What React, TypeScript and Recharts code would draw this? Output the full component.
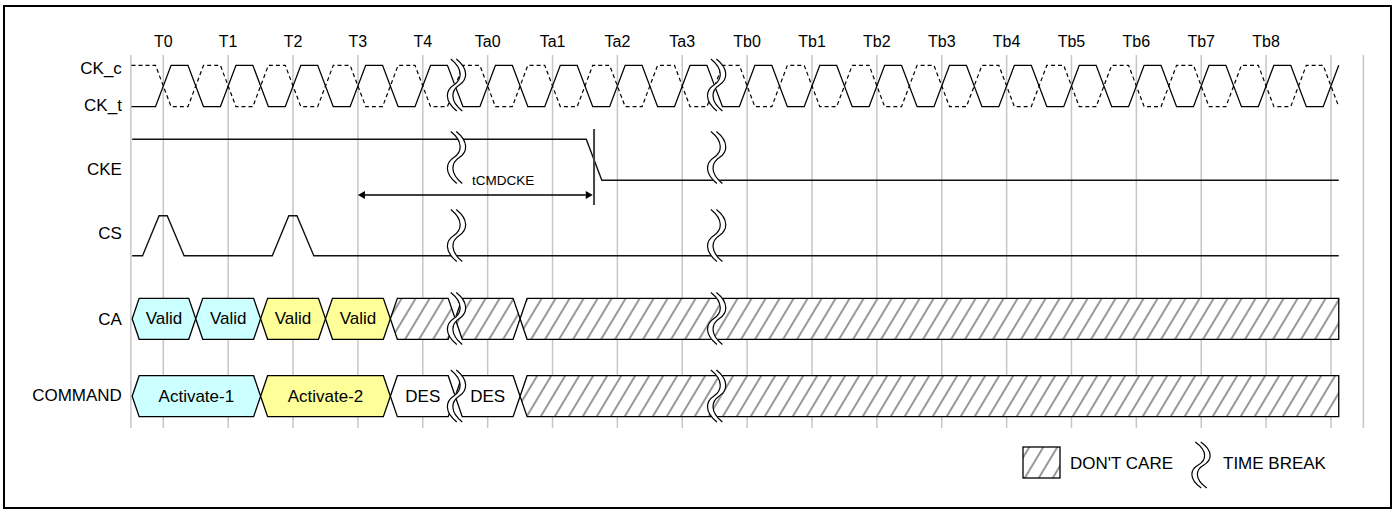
import React from "react";
import {
  ComposedChart,
  XAxis,
  YAxis,
  CartesianGrid,
  Line,
  Scatter,
  ReferenceArea,
  ReferenceLine,
} from "recharts";

// clock edge labels, index = cycle on the time axis (last edge has no label)
const clockLabels = [
  "T0", "T1", "T2", "T3", "T4",
  "Ta0", "Ta1", "Ta2", "Ta3",
  "Tb0", "Tb1", "Tb2", "Tb3", "Tb4", "Tb5", "Tb6", "Tb7", "Tb8",
  "",
];

const laneNames = ["CK_c", "CK_t", "CKE", "CS", "CA", "COMMAND"];

// waveform corners, time in clock cycles, 1 = high, 0 = low
const ckeTimes = [-0.48, 6.52, 6.76, 18.12];
const ckeLevels = [1, 1, 0, 0];

const csTimes = [-0.48, -0.32, -0.065, 0.06, 0.32, 1.68, 1.935, 2.06, 2.32, 18.12];
const csLevels = [0, 0, 1, 1, 0, 0, 1, 1, 0, 0];

// bus cells (start / end in cycles)
const caStart = [-0.48, 0.5, 1.5, 2.5, 3.5, 4.5, 5.5];
const caEnd = [0.5, 1.5, 2.5, 3.5, 4.5, 5.5, 18.12];
const caText = ["Valid", "Valid", "Valid", "Valid", "", "", ""];
const caKind = ["cyan", "cyan", "yellow", "yellow", "x", "x", "x"];

const cmdStart = [-0.48, 1.5, 3.5, 4.5, 5.5];
const cmdEnd = [1.5, 3.5, 4.5, 5.5, 18.12];
const cmdText = ["Activate-1", "Activate-2", "DES", "DES", ""];
const cmdKind = ["cyan", "yellow", "white", "white", "x"];

const timeBreaks = [4.52, 8.53];

const tcmdFrom = 3;
const tcmdTo = 6.64;
const tcmdTextAt = 4.77;

// layout
const W = 1399;
const H = 513;
const PLOT_LEFT = 130.87;
const PLOT_RIGHT = 1363.4;
const PLOT_TOP = 55;
const PLOT_BOTTOM = 428;
const Y_AXIS_W = 60;
const X_AXIS_H = 30;
const EDGE = 0.12;
const WAVE_START = -0.49;
const WAVE_END = 18.12;
const POINT = 7;
const FONT = '"Liberation Sans", Arial, Helvetica, sans-serif';

const lane = {
  ck: { hi: 10.3, lo: 51.7 },
  cke: { hi: 84.3, lo: 125.3 },
  cs: { hi: 160.7, lo: 200.7 },
  ca: { hi: 243.3, lo: 284.3 },
  cmd: { hi: 320.7, lo: 361.7 },
};
const laneLabelY = [12.5, 49.5, 114, 178, 264, 340];
const breakCenters = [30, 102.5, 180.5, 263.5, 341];
const BREAK_H = 52;

const fills: Record<string, string> = {
  cyan: "#CCFFFF",
  yellow: "#FFFF99",
  white: "#FFFFFF",
  x: "url(#dc-hatch)",
};

function clockWave(startHigh: boolean) {
  let lvl = startHigh ? 1 : 0;
  const pts = [{ x: WAVE_START, lvl }];
  clockLabels.forEach((_, i) => {
    for (const e of [i, i + 0.5]) {
      if (e + EDGE > WAVE_END + 1e-6) continue;
      pts.push({ x: e - EDGE, lvl });
      lvl = 1 - lvl;
      pts.push({ x: e + EDGE, lvl });
    }
  });
  return pts.map((p) => ({ x: p.x, y: p.lvl ? lane.ck.hi : lane.ck.lo }));
}

function toWave(times: number[], levels: number[], l: { hi: number; lo: number }) {
  return times.map((t, i) => ({ x: t, y: levels[i] ? l.hi : l.lo }));
}

const ckT = clockWave(false);
const ckC = clockWave(true);
const cke = toWave(ckeTimes, ckeLevels, lane.cke);
const cs = toWave(csTimes, csLevels, lane.cs);

const breakPts = timeBreaks.flatMap((x) => breakCenters.map((y) => ({ x, y })));

function breakCurve(c: number, top: number, h: number) {
  return `M${c - 3},${top} C${c + 10},${top + 0.2 * h} ${c + 8},${top + 0.4 * h} ${c},${top + 0.5 * h} C${c - 8},${top + 0.6 * h} ${c - 10},${top + 0.8 * h} ${c + 3},${top + h}`;
}

function TimeBreak({ cx, top, h }: { cx: number; top: number; h: number }) {
  const gap = 5.5;
  return (
    <g>
      <path d={breakCurve(cx, top, h)} stroke="#fff" strokeWidth={5} fill="none" />
      <path d={breakCurve(cx - gap / 2, top, h)} stroke="#000" strokeWidth={1.2} fill="none" />
      <path d={breakCurve(cx + gap / 2, top, h)} stroke="#000" strokeWidth={1.2} fill="none" />
    </g>
  );
}

function busShape(text: string, kind: string, flatRight: boolean) {
  return (p: any) => {
    const { x, y, width: w, height: h } = p;
    const m = y + h / 2;
    const d = flatRight
      ? `M${x},${m} L${x + POINT},${y} L${x + w},${y} L${x + w},${y + h} L${x + POINT},${y + h} Z`
      : `M${x},${m} L${x + POINT},${y} L${x + w - POINT},${y} L${x + w},${m} L${x + w - POINT},${y + h} L${x + POINT},${y + h} Z`;
    return (
      <g>
        <path d={d} fill={fills[kind]} stroke="#000" strokeWidth={1.3} />
        {text && (
          <text
            x={x + w / 2}
            y={m}
            textAnchor="middle"
            dominantBaseline="central"
            fontSize={17}
            fontFamily={FONT}
            fill="#000"
          >
            {text}
          </text>
        )}
      </g>
    );
  };
}

function arrowShape(p: any) {
  const { x1, y1, x2 } = p;
  const ah = 7;
  const aw = 4;
  const pxPerCycle = (x2 - x1) / (tcmdTo - tcmdFrom);
  const tx = x1 + (tcmdTextAt - tcmdFrom) * pxPerCycle;
  return (
    <g>
      <line x1={x1 + ah} y1={y1} x2={x2 - ah} y2={y1} stroke="#000" strokeWidth={1.3} />
      <path d={`M${x1},${y1} L${x1 + ah},${y1 - aw} L${x1 + ah},${y1 + aw} Z`} fill="#000" />
      <path d={`M${x2},${y1} L${x2 - ah},${y1 - aw} L${x2 - ah},${y1 + aw} Z`} fill="#000" />
      <text x={tx} y={y1 - 15} fontSize={13.5} fontFamily={FONT} dominantBaseline="central" fill="#000">
        tCMDCKE
      </text>
    </g>
  );
}

function renderBus(starts: number[], ends: number[], texts: string[], kinds: string[], l: { hi: number; lo: number }, key: string) {
  return starts.map((s, i) => (
    <ReferenceArea
      key={key + i}
      x1={s}
      x2={ends[i]}
      y1={l.hi}
      y2={l.lo}
      shape={busShape(texts[i], kinds[i], ends[i] >= WAVE_END)}
    />
  ));
}

export default function App() {
  return (
    <div style={{ position: "absolute", left: 0, top: 0, width: W, height: H, background: "#fff", fontFamily: FONT }}>
      <ComposedChart
        width={W}
        height={H}
        margin={{
          top: PLOT_TOP - X_AXIS_H,
          left: PLOT_LEFT - Y_AXIS_W,
          right: W - PLOT_RIGHT,
          bottom: H - PLOT_BOTTOM,
        }}
      >
        <defs>
          <pattern id="dc-hatch" width={12} height={12} patternUnits="userSpaceOnUse" patternTransform="rotate(31)">
            <rect width={12} height={12} fill="#fff" />
            <line x1={6} y1={0} x2={6} y2={12} stroke="#444" strokeWidth={1.1} />
          </pattern>
        </defs>
        <CartesianGrid horizontal={false} stroke="#c6c6c6" strokeWidth={1.5} />
        <XAxis
          xAxisId={0}
          type="number"
          dataKey="x"
          orientation="top"
          domain={[-0.5, 18.5]}
          ticks={clockLabels.map((_, i) => i)}
          tickFormatter={(v: number) => clockLabels[v] ?? ""}
          interval={0}
          height={X_AXIS_H}
          axisLine={false}
          tickLine={false}
          tickSize={0}
          tickMargin={8.3}
          tick={{ fontSize: 16, fill: "#000" }}
        />
        <YAxis
          yAxisId={0}
          type="number"
          domain={[0, PLOT_BOTTOM - PLOT_TOP]}
          reversed
          width={Y_AXIS_W}
          ticks={laneLabelY}
          tickFormatter={(v: number) => laneNames[laneLabelY.indexOf(v)] ?? ""}
          interval={0}
          axisLine={false}
          tickLine={false}
          tickSize={0}
          tickMargin={9}
          tick={{ fontSize: 17, fill: "#000" }}
        />

        {renderBus(caStart, caEnd, caText, caKind, lane.ca, "ca")}
        {renderBus(cmdStart, cmdEnd, cmdText, cmdKind, lane.cmd, "cmd")}

        <Line data={ckC} dataKey="y" type="linear" stroke="#000" strokeWidth={1.2} strokeDasharray="4 3" dot={false} activeDot={false} isAnimationActive={false} />
        <Line data={ckT} dataKey="y" type="linear" stroke="#000" strokeWidth={1.3} dot={false} activeDot={false} isAnimationActive={false} />
        <Line data={cke} dataKey="y" type="linear" stroke="#111" strokeWidth={1.4} dot={false} activeDot={false} isAnimationActive={false} />
        <Line data={cs} dataKey="y" type="linear" stroke="#111" strokeWidth={1.4} dot={false} activeDot={false} isAnimationActive={false} />

        <ReferenceLine
          segment={[
            { x: tcmdTo, y: 74 },
            { x: tcmdTo, y: 150 },
          ]}
          stroke="#444"
          strokeWidth={2}
        />
        <ReferenceLine
          segment={[
            { x: tcmdFrom, y: 140 },
            { x: tcmdTo - 0.02, y: 140 },
          ]}
          shape={arrowShape}
        />

        <Scatter
          data={breakPts}
          dataKey="y"
          isAnimationActive={false}
          shape={(p: any) => <TimeBreak cx={p.cx} top={p.cy - BREAK_H / 2} h={BREAK_H} />}
        />
      </ComposedChart>

      {/* legend */}
      <svg style={{ position: "absolute", left: 1015, top: 436 }} width={330} height={60}>
        <defs>
          <pattern id="dc-hatch-lg" width={12} height={12} patternUnits="userSpaceOnUse" patternTransform="rotate(31)">
            <rect width={12} height={12} fill="#fff" />
            <line x1={6} y1={0} x2={6} y2={12} stroke="#444" strokeWidth={1.1} />
          </pattern>
        </defs>
        <rect x={8} y={11} width={37} height={31} fill="url(#dc-hatch-lg)" stroke="#000" strokeWidth={1.3} />
        <text x={55} y={27} fontSize={17} fontFamily={FONT} dominantBaseline="central" fill="#000">
          DON'T CARE
        </text>
        <TimeBreak cx={186} top={6} h={46} />
        <text x={208} y={27} fontSize={17} fontFamily={FONT} dominantBaseline="central" fill="#000">
          TIME BREAK
        </text>
      </svg>

      {/* frame */}
      <div
        style={{
          position: "absolute",
          left: 3,
          top: 5,
          width: 1389,
          height: 504,
          border: "2px solid #000",
          boxSizing: "border-box",
          pointerEvents: "none",
        }}
      />
    </div>
  );
}
